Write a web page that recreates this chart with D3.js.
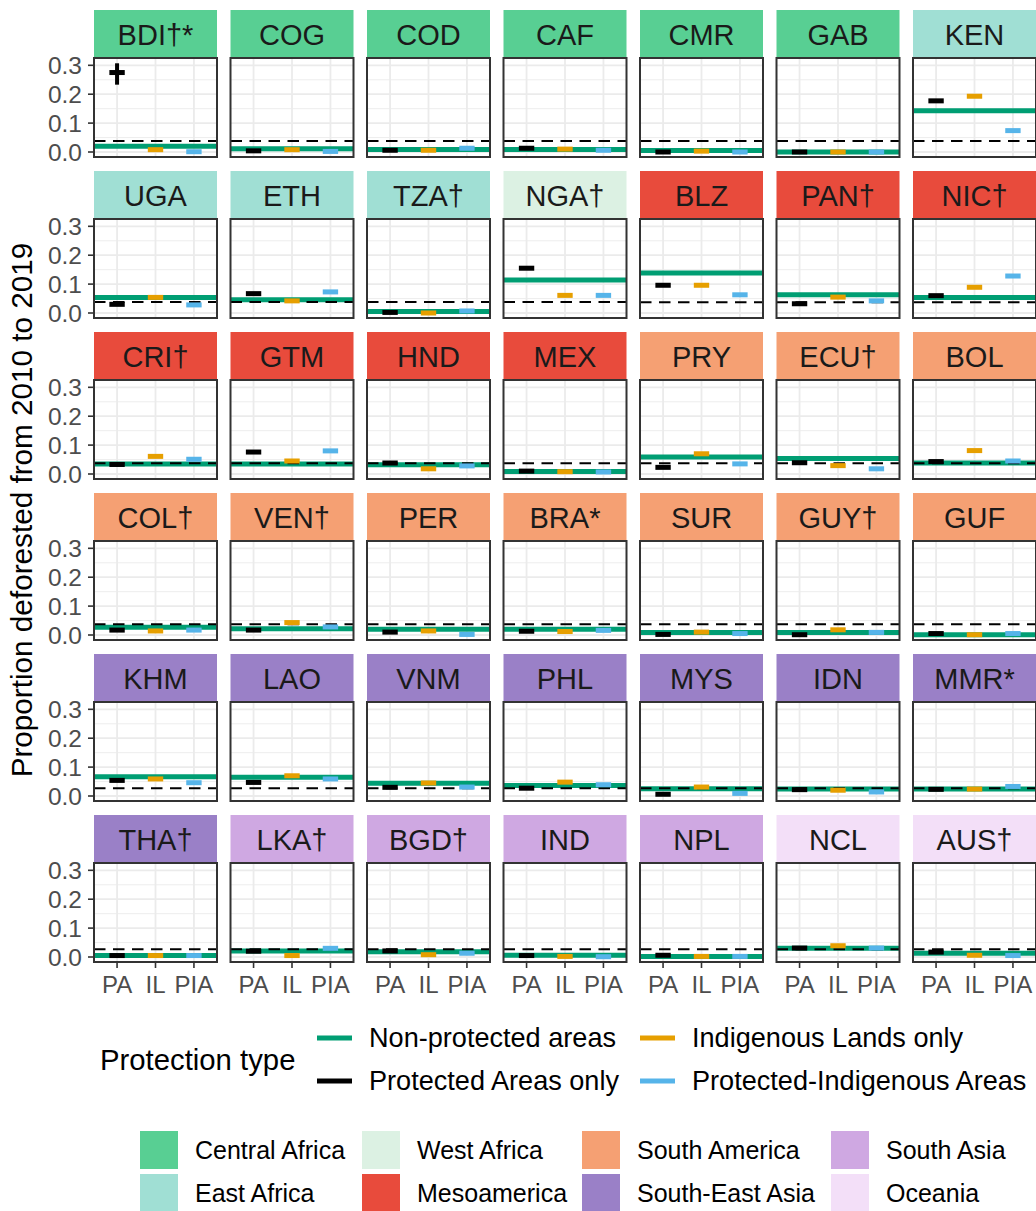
<!DOCTYPE html>
<html><head><meta charset="utf-8">
<script src="https://cdn.jsdelivr.net/npm/d3@7"></script>
<style>body{margin:0;background:#fff}svg{display:block}text{font-family:"Liberation Sans",Arial,Helvetica,sans-serif}</style>
</head><body><svg id="chart" width="1036" height="1211"></svg>
<script>
// ---------- DATA ----------
const countries = [
  "BDI†*","COG","COD","CAF","CMR","GAB","KEN",
  "UGA","ETH","TZA†","NGA†","BLZ","PAN†","NIC†",
  "CRI†","GTM","HND","MEX","PRY","ECU†","BOL",
  "COL†","VEN†","PER","BRA*","SUR","GUY†","GUF",
  "KHM","LAO","VNM","PHL","MYS","IDN","MMR*",
  "THA†","LKA†","BGD†","IND","NPL","NCL","AUS†"];
const regionOf = [
  "Central Africa","Central Africa","Central Africa","Central Africa","Central Africa","Central Africa","East Africa",
  "East Africa","East Africa","East Africa","West Africa","Mesoamerica","Mesoamerica","Mesoamerica",
  "Mesoamerica","Mesoamerica","Mesoamerica","Mesoamerica","South America","South America","South America",
  "South America","South America","South America","South America","South America","South America","South America",
  "South-East Asia","South-East Asia","South-East Asia","South-East Asia","South-East Asia","South-East Asia","South-East Asia",
  "South-East Asia","South Asia","South Asia","South Asia","South Asia","Oceania","Oceania"];
const nonProtected = [
  0.020,0.011,0.009,0.009,0.005,0.000,0.143,
  0.054,0.046,0.005,0.114,0.138,0.063,0.054,
  0.035,0.035,0.032,0.009,0.059,0.054,0.038,
  0.027,0.022,0.020,0.020,0.009,0.009,0.001,
  0.067,0.065,0.044,0.036,0.025,0.024,0.024,
  0.005,0.021,0.018,0.006,0.002,0.030,0.013];
const protectedAreas = [
  0.275,0.004,0.006,0.013,0.000,0.000,0.177,
  0.030,0.067,0.002,0.155,0.096,0.032,0.060,
  0.033,0.076,0.038,0.010,0.023,0.039,0.043,
  0.017,0.017,0.010,0.013,0.002,0.001,0.005,
  0.054,0.047,0.030,0.027,0.006,0.022,0.023,
  0.005,0.020,0.021,0.005,0.006,0.031,0.017];
const indigenousLands = [
  0.008,0.008,0.006,0.010,0.003,0.000,0.193,
  0.054,0.042,0.000,0.061,0.096,0.055,0.089,
  0.061,0.045,0.018,0.008,0.070,0.029,0.081,
  0.014,0.043,0.014,0.012,0.010,0.018,0.001,
  0.059,0.070,0.045,0.048,0.031,0.020,0.024,
  0.005,0.005,0.008,0.002,0.002,0.039,0.006];
const protectedIndigenous = [
  0.001,0.002,0.013,0.006,0.000,0.000,0.074,
  0.028,0.073,0.007,0.061,0.063,0.042,0.128,
  0.051,0.080,0.028,0.007,0.035,0.018,0.045,
  0.017,0.028,0.002,0.016,0.005,0.009,0.005,
  0.046,0.059,0.031,0.039,0.009,0.014,0.033,
  0.005,0.030,0.013,0.001,0.002,0.031,0.005];
const referenceRate = [
  0.038,0.038,0.038,0.038,0.038,0.038,0.038,
  0.038,0.038,0.038,0.038,0.037,0.037,0.037,
  0.037,0.037,0.037,0.037,0.037,0.037,0.037,
  0.037,0.037,0.037,0.037,0.037,0.037,0.037,
  0.027,0.027,0.027,0.027,0.027,0.027,0.027,
  0.027,0.027,0.027,0.027,0.027,0.027,0.027];
// visible confidence intervals
const ciCountry = ["BDI†*"];
const ciCategory = ["PA"];
const ciLow = [0.233];
const ciHigh = [0.307];

const xCategories = ["PA","IL","PIA"];
const yTicks = [0, 0.1, 0.2, 0.3];
const yMinor = [0.05, 0.15, 0.25];
const protectionLabels = ["Non-protected areas","Protected Areas only","Indigenous Lands only","Protected-Indigenous Areas"];
const protectionColors = ["#009E73","#000000","#E69F00","#56B4E9"];
const regionNames = ["Central Africa","East Africa","West Africa","Mesoamerica","South America","South-East Asia","South Asia","Oceania"];
const regionColors = ["#58CF93","#A0DFD4","#DCF1E3","#E84B3C","#F5A073","#9A80C7","#CFA8E2","#F3DFF8"];

// ---------- LAYOUT ----------
const svg = d3.select("#chart");
const nCol = 7;
const left0 = 94, colStep = 136.5, panelW = 123;
const top0 = 10, rowStep = 161, stripH = 48, panelH = 99;
const nRow = Math.ceil(countries.length / nCol);

const x = d3.scalePoint().domain(xCategories).range([0, panelW]).padding(0.6);
const y = d3.scaleLinear().domain([-0.0173, 0.3253]).range([panelH, 0]);
const regionColor = d3.scaleOrdinal().domain(regionNames).range(regionColors);
const markerW = x.step() * 0.4, markerH = 5;

countries.forEach((c, i) => {
  const col = i % nCol, row = Math.floor(i / nCol);
  const gx = left0 + col * colStep, gy = top0 + row * rowStep;
  const g = svg.append("g").attr("transform", `translate(${gx},${gy})`);
  g.append("rect").attr("x", 0).attr("y", 0).attr("width", panelW).attr("height", stripH)
    .attr("fill", regionColor(regionOf[i]));
  g.append("text").attr("x", panelW / 2).attr("y", stripH / 2 + 1)
    .attr("text-anchor", "middle").attr("dominant-baseline", "central")
    .attr("font-size", 29).attr("fill", "#1a1a1a").text(c);
  const p = g.append("g").attr("transform", `translate(0,${stripH})`);
  p.append("rect").attr("width", panelW).attr("height", panelH).attr("fill", "#fff");
  p.selectAll(".ymin").data(yMinor).join("line")
    .attr("x1", 0).attr("x2", panelW).attr("y1", d => y(d)).attr("y2", d => y(d))
    .attr("stroke", "#ebebeb").attr("stroke-width", 0.9);
  p.selectAll(".ymaj").data(yTicks).join("line")
    .attr("x1", 0).attr("x2", panelW).attr("y1", d => y(d)).attr("y2", d => y(d))
    .attr("stroke", "#ebebeb").attr("stroke-width", 1.8);
  p.selectAll(".xmaj").data(xCategories).join("line")
    .attr("x1", d => x(d)).attr("x2", d => x(d)).attr("y1", 0).attr("y2", panelH)
    .attr("stroke", "#ebebeb").attr("stroke-width", 1.8);
  p.append("line").attr("x1", 0).attr("x2", panelW)
    .attr("y1", y(nonProtected[i])).attr("y2", y(nonProtected[i]))
    .attr("stroke", protectionColors[0]).attr("stroke-width", 5);
  p.append("line").attr("x1", 0).attr("x2", panelW)
    .attr("y1", y(referenceRate[i])).attr("y2", y(referenceRate[i]))
    .attr("stroke", "#000").attr("stroke-width", 2).attr("stroke-dasharray", "11.5,7.5");
  ciCountry.forEach((cc, k) => {
    if (cc !== c) return;
    p.append("line").attr("x1", x(ciCategory[k])).attr("x2", x(ciCategory[k]))
      .attr("y1", y(ciLow[k])).attr("y2", y(ciHigh[k]))
      .attr("stroke", "#000").attr("stroke-width", 4);
  });
  const vals = [protectedAreas[i], indigenousLands[i], protectedIndigenous[i]];
  p.selectAll(".mk").data(xCategories).join("rect")
    .attr("x", d => x(d) - markerW / 2).attr("width", markerW)
    .attr("y", (d, k) => y(vals[k]) - markerH / 2).attr("height", markerH)
    .attr("fill", (d, k) => protectionColors[k + 1]);
  p.append("rect").attr("width", panelW).attr("height", panelH)
    .attr("fill", "none").attr("stroke", "#333333").attr("stroke-width", 2);
  if (col === 0) {
    const ax = p.append("g");
    ax.selectAll("line").data(yTicks).join("line")
      .attr("x1", -6).attr("x2", 0).attr("y1", d => y(d)).attr("y2", d => y(d))
      .attr("stroke", "#333333").attr("stroke-width", 1.6);
    ax.selectAll("text").data(yTicks).join("text")
      .attr("x", -12).attr("y", d => y(d)).attr("dy", "0.36em")
      .attr("text-anchor", "end").attr("font-size", 24.5).attr("fill", "#4d4d4d")
      .text(d3.format(".1f"));
  }
  if (row === nRow - 1) {
    const ax = p.append("g").attr("transform", `translate(0,${panelH})`);
    ax.selectAll("line").data(xCategories).join("line")
      .attr("x1", d => x(d)).attr("x2", d => x(d)).attr("y1", 0).attr("y2", 6)
      .attr("stroke", "#333333").attr("stroke-width", 1.6);
    ax.selectAll("text").data(xCategories).join("text")
      .attr("x", d => x(d)).attr("y", 31)
      .attr("text-anchor", "middle").attr("font-size", 24).attr("fill", "#4d4d4d")
      .text(d => d);
  }
});

const yTitleCenter = (top0 + stripH + top0 + (nRow - 1) * rowStep + stripH + panelH) / 2;
svg.append("text").attr("transform", `translate(32,${yTitleCenter}) rotate(-90)`)
  .attr("text-anchor", "middle").attr("font-size", 29.7).attr("fill", "#000")
  .text("Proportion deforested from 2010 to 2019");

const lg1 = svg.append("g");
lg1.append("text").attr("x", 100).attr("y", 1060).attr("dy", "0.35em")
  .attr("font-size", 29.3).attr("fill", "#000").text("Protection type");
const lgX = [317, 317, 640, 640], lgY = [1038, 1081, 1038, 1081];
protectionLabels.forEach((lab, k) => {
  lg1.append("line").attr("x1", lgX[k]).attr("x2", lgX[k] + 35)
    .attr("y1", lgY[k]).attr("y2", lgY[k])
    .attr("stroke", protectionColors[k]).attr("stroke-width", 5);
  lg1.append("text").attr("x", lgX[k] + 52).attr("y", lgY[k]).attr("dy", "0.35em")
    .attr("font-size", 27.1).attr("fill", "#000").text(lab);
});

const lg2 = svg.append("g");
const swX = [140, 362, 582, 831], swY = [1131, 1174];
regionNames.forEach((r, k) => {
  const cx = swX[Math.floor(k / 2)], cy = swY[k % 2];
  lg2.append("rect").attr("x", cx).attr("y", cy).attr("width", 38).attr("height", 38)
    .attr("fill", regionColor(r));
  lg2.append("text").attr("x", cx + 55).attr("y", cy + 19).attr("dy", "0.35em")
    .attr("font-size", 25).attr("fill", "#000").text(r);
});
</script></body></html>
